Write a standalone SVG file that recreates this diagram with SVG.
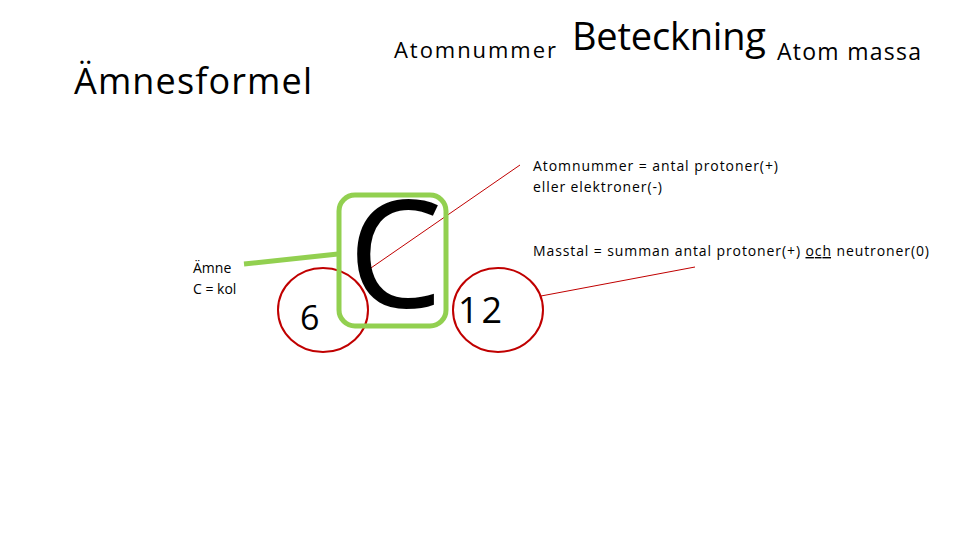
<svg xmlns="http://www.w3.org/2000/svg" width="960" height="540" viewBox="0 0 960 540">
<style>
text{font-family:"Open Sans","Liberation Sans",sans-serif;fill:#000}
.s{font-size:14px}
.red{fill:none;stroke:#c00000;stroke-width:2}
.thin{stroke:#c00000;stroke-width:1;fill:none}
</style>
<rect width="960" height="540" fill="#fff"/>
<text x="74" y="94" font-size="36" fill="#333" textLength="238">Ämnesformel</text>
<text x="394" y="58" font-size="22" textLength="162">Atomnummer</text>
<text x="572" y="50" font-size="38" textLength="194">Beteckning</text>
<text x="777" y="60" font-size="23" textLength="144">Atom massa</text>
<g id="connectors">
<line x1="244" y1="264" x2="338" y2="254" stroke="#92d050" stroke-width="5"/>
<line class="thin" x1="368" y1="270" x2="520" y2="165"/>
<line class="thin" x1="541" y1="296" x2="695" y2="267"/>
</g>
<g id="amne"><text class="s" x="193" y="273">Ämne</text><text class="s" x="193" y="294">C = kol</text></g>
<g id="six"><ellipse class="red" cx="323" cy="310" rx="45" ry="42"/><text x="300" y="330" font-size="34">6</text></g>
<g id="C"><rect x="339" y="195" width="107" height="131" rx="16" fill="none" stroke="#92d050" stroke-width="5"/><text x="348" y="308" font-size="150" font-weight="500" textLength="84">C</text></g>
<g id="twelve"><ellipse class="red" cx="498" cy="310" rx="45" ry="42"/><text x="458" y="323" font-size="36" textLength="44">12</text></g>
<g id="atomtext"><text class="s" x="533" y="171" textLength="245">Atomnummer = antal protoner(+)</text><text class="s" x="533" y="192" textLength="129">eller elektroner(-)</text></g>
<g id="masstext"><text class="s" x="533" y="256" textLength="396">Masstal = summan antal protoner(+) <tspan text-decoration="underline">och</tspan> neutroner(0)</text></g>
</svg>
